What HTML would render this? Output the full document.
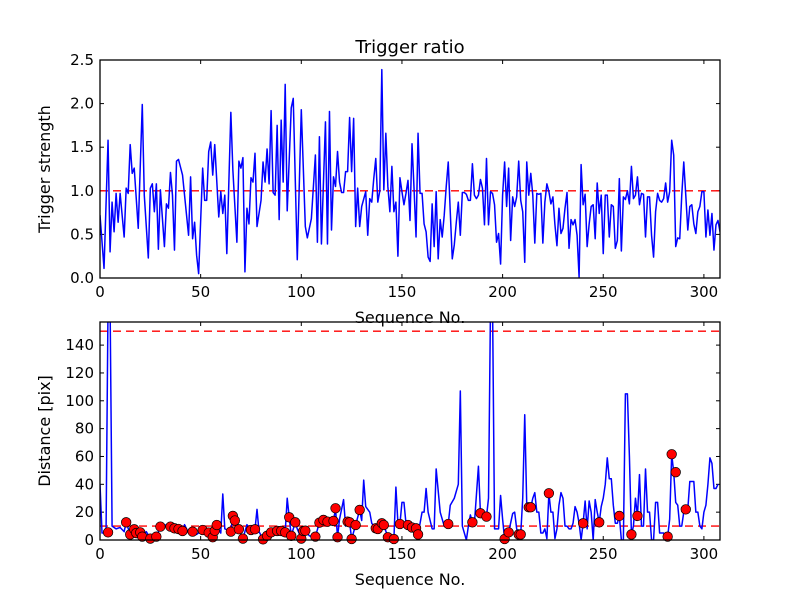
<!DOCTYPE html>
<html><head><meta charset="utf-8"><style>
html,body{margin:0;padding:0;background:#fff;}
svg{display:block;font-family:"DejaVu Sans","Liberation Sans",sans-serif;}
</style></head><body>
<svg id="fig" width="800" height="600" viewBox="0 0 800 600">
<rect width="800" height="600" fill="#fff"/>
<defs>
<clipPath id="c1"><rect x="100" y="60" width="620" height="218"/></clipPath>
<clipPath id="c2"><rect x="100" y="322" width="620" height="218"/></clipPath>
</defs>
<text x="410" y="53" font-size="18" text-anchor="middle">Trigger ratio</text>
<g id="top"></g>
<g id="bot"></g>
</svg>
<script>
const topPoints=[[0,0.72],[2,0.11],[4,1.58],[5,0.3],[6,0.87],[7,0.53],[8,0.97],[9,0.64],[10,0.97],[12,0.47],[13,1.03],[14,0.97],[15,1.53],[16,1.2],[17,1.26],[19,0.57],[21,1.99],[22,0.95],[24,0.23],[25,1.03],[26,1.08],[27,0.76],[28,1.08],[29,0.33],[30,1.01],[32,0.36],[33,0.85],[34,0.8],[35,1.21],[36,0.95],[37,0.32],[38,1.34],[39,1.36],[41,1.18],[44,0.49],[45,1.16],[46,0.45],[47,0.64],[48,0.26],[49,0.05],[51,1.26],[52,0.89],[53,0.89],[54,1.45],[55,1.56],[56,1.18],[57,1.53],[59,0.7],[60,0.99],[61,0.74],[62,0.95],[63,0.28],[65,1.9],[66,1.24],[68,0.41],[69,1.34],[70,1.26],[71,1.38],[72,0.07],[73,0.8],[74,0.62],[75,1.15],[76,1.1],[77,1.43],[78,0.59],[80,0.89],[81,1.33],[82,1.1],[83,1.48],[84,1.08],[85,1.92],[86,0.98],[87,0.95],[88,1.75],[89,0.67],[90,1.81],[91,1.1],[92,2.22],[93,0.77],[95,1.95],[96,2.06],[98,0.21],[100,1.93],[102,0.59],[103,0.46],[105,0.68],[107,1.41],[108,0.41],[109,1.62],[110,0.39],[112,1.79],[113,0.39],[114,1.91],[115,0.55],[116,1.16],[117,1.05],[118,1.45],[119,1.1],[120,0.98],[121,0.98],[122,1.22],[123,1.22],[124,1.84],[125,1.22],[126,1.83],[127,0.59],[128,1.03],[129,0.59],[130,0.82],[132,0.99],[133,0.49],[134,0.91],[135,0.87],[136,1.14],[137,1.37],[138,0.87],[139,1.0],[140,2.39],[141,1.01],[142,1.66],[143,1.05],[144,0.76],[145,1.28],[146,0.76],[147,0.87],[148,0.25],[149,1.15],[150,0.99],[151,0.84],[152,0.97],[153,1.12],[154,0.66],[155,1.54],[156,1.03],[157,0.47],[158,1.66],[159,0.97],[160,0.97],[161,0.62],[162,0.53],[163,0.24],[164,0.19],[165,0.85],[166,0.36],[167,0.99],[168,0.22],[169,0.67],[170,0.47],[171,0.72],[172,1.05],[173,1.33],[174,0.76],[175,0.22],[176,0.38],[177,0.64],[178,0.87],[179,0.49],[180,0.98],[181,0.98],[182,0.96],[183,0.89],[184,0.89],[185,1.31],[186,0.95],[187,0.91],[188,0.95],[189,1.13],[190,1.03],[191,0.61],[192,1.37],[193,0.61],[194,0.99],[195,0.97],[196,0.84],[197,0.41],[198,0.51],[199,0.16],[200,0.95],[201,1.33],[202,0.82],[203,1.26],[204,0.43],[205,0.93],[206,0.82],[207,0.93],[208,1.34],[209,0.89],[210,0.76],[211,0.18],[212,1.33],[213,0.95],[214,1.2],[215,0.95],[216,0.4],[217,0.97],[218,0.96],[219,0.97],[220,0.4],[221,0.87],[222,1.08],[223,0.99],[224,0.85],[225,0.93],[226,0.61],[227,0.37],[228,0.8],[229,0.51],[230,0.57],[231,0.8],[232,0.98],[233,0.34],[234,0.67],[235,0.61],[236,0.67],[237,0.49],[238,0.01],[239,1.3],[240,0.84],[241,0.96],[242,0.36],[243,0.62],[244,0.82],[245,0.84],[246,0.45],[247,1.09],[248,0.74],[249,0.95],[250,0.28],[251,0.95],[252,0.95],[253,0.47],[254,0.84],[255,0.82],[256,0.34],[257,0.43],[258,1.14],[259,0.31],[260,0.93],[261,0.9],[262,1.0],[263,0.85],[264,1.28],[265,0.91],[266,0.95],[267,1.16],[268,0.84],[269,0.97],[270,0.96],[271,0.47],[272,0.93],[273,0.93],[274,0.49],[275,0.24],[276,0.76],[277,0.97],[278,0.89],[279,0.87],[280,0.91],[281,1.09],[282,0.87],[283,0.99],[284,1.58],[285,1.41],[286,0.36],[287,0.46],[288,0.45],[289,0.95],[290,1.33],[291,0.95],[292,0.55],[293,0.82],[294,0.84],[295,0.62],[296,0.51],[297,0.76],[298,0.82],[299,0.99],[300,0.99],[301,0.47],[302,0.78],[303,0.49],[304,0.74],[305,0.32],[306,0.61],[307,0.66],[308,0.53]];
const distPoints=[[0,40],[1,5],[3,5],[4,170],[5,170],[6,10],[8,8],[10,9],[12,6],[13,12.7],[15,4],[17,7.7],[18,5],[20,5.5],[21,2.4],[23,6],[25,1],[28,2.4],[30,9.6],[33,11],[35,9.6],[37,8.4],[39,7.9],[41,6.5],[42,11],[44,5],[46,6],[48,4],[51,7.2],[54,5.3],[56,2],[57,6.7],[58,10.8],[60,5],[61,33],[62,8],[65,6],[66,17.3],[67,14],[69,7.7],[71,1],[73,11],[75,7.2],[77,7.7],[78,22],[79,6],[81,0.5],[83,3],[85,5.5],[88,6.5],[90,6.5],[92,5.5],[93,30],[94,16.3],[95,3],[97,12.7],[98,8],[100,1],[101,6.5],[102,6.7],[104,3],[107,2.4],[109,12.5],[111,14.4],[113,13.2],[116,13.7],[117,22.8],[118,2],[119,15],[121,29],[122,10],[123,13.2],[124,12.7],[125,0.7],[127,10.8],[129,21.6],[130,14],[131,43],[132,24],[134,20],[135,12],[137,8.4],[138,7.9],[140,12],[141,10.8],[143,2],[146,0.7],[147,38],[148,12],[149,11.5],[150,27],[151,27],[152,12],[153,10.8],[155,9],[157,8.4],[158,4],[160,20],[161,20],[162,37],[163,20],[165,8],[166,8],[167,51],[169,20],[171,10],[172,10],[173,11.5],[174,25],[176,30],[178,40],[179,107],[180,10],[182,0],[183,10],[184,18],[185,12.7],[186,12],[188,53],[189,19.2],[192,16.8],[193,30],[194,170],[195,170],[196,8],[198,8],[199,32],[200,15],[201,0.7],[203,5.5],[205,19],[206,20],[207,8],[208,4],[209,4],[210,30],[211,90],[212,25],[213,23.5],[214,23.5],[215,30],[216,34],[217,20],[218,20],[219,5],[220,5],[221,8],[222,1],[223,33.6],[224,20],[225,20],[226,1],[227,8],[228,25],[229,34],[230,30],[231,10],[232,10],[233,8],[234,8],[235,12],[236,24],[237,20],[238,12],[239,0],[240,12],[241,28],[242,8],[243,28],[244,20],[245,0],[246,29],[247,20],[248,12.7],[249,24],[250,30],[251,40],[252,59],[253,44],[254,44],[255,25],[256,12],[257,12],[258,17.3],[259,0],[260,0],[261,105],[262,105],[263,60],[264,4],[265,10],[266,30],[267,17.3],[268,47],[269,10],[270,10],[271,51],[272,20],[273,20],[274,0],[275,0],[276,27],[277,27],[278,5],[279,5],[280,5],[281,2],[282,2.4],[283,15],[284,61.6],[285,48.7],[286,27],[287,25],[288,10],[289,10],[290,20],[291,22],[292,22],[293,42],[294,42],[295,42],[296,20],[297,20],[298,10],[299,8],[300,20],[301,25],[302,40],[303,59],[304,55],[305,37],[306,37],[307,40]];
const dotSeq=[4,13,15,17,18,20,21,25,28,30,35,37,39,41,46,51,54,56,57,58,65,66,67,69,71,75,77,81,83,85,88,90,92,94,95,97,100,101,102,107,109,111,113,116,117,118,123,124,125,127,129,137,138,140,141,143,146,149,153,155,157,158,173,185,189,192,201,203,208,209,213,214,223,240,248,258,264,267,282,284,286,291];
const dotVal=[5.5,12.7,4,7.7,5,5.5,2.4,1,2.4,9.6,9.6,8.4,7.9,6.5,6,7.2,5.3,2,6.7,10.8,6,17.3,14,7.7,1,7.2,7.7,0.5,3,5.5,6.5,6.5,5.5,16.3,3,12.7,1,6.5,6.7,2.4,12.5,14.4,13.2,13.7,22.8,2,13.2,12.7,0.7,10.8,21.6,8.4,7.9,12,10.8,2,0.7,11.5,10.8,9,8.4,4,11.5,12.7,19.2,16.8,0.7,5.5,4,4,23.5,23.5,33.6,12,12.7,17.3,4,17.3,2.4,61.6,48.7,22];
const xTicks=[0,50,100,150,200,250,300];
const topYTicks=["0.0","0.5","1.0","1.5","2.0","2.5"];
const botYTicks=[0,20,40,60,80,100,120,140];
const X0=100,X1=720,XMAX=308;
const NS="http://www.w3.org/2000/svg";
function sx(v){return X0+(X1-X0)*v/XMAX;}
function mk(tag,at,parent){const e=document.createElementNS(NS,tag);for(const k in at)e.setAttribute(k,at[k]);parent.appendChild(e);return e;}
function axes(g,top,bot,ymax,yTicks,ylabel){
  const sy=v=>bot-(bot-top)*v/ymax;
  xTicks.forEach(t=>{
    const x=sx(t);
    const a=mk('line',{x1:x,x2:x,y1:bot,y2:bot-4,stroke:'#000','stroke-width':1},g);
    
    
    mk('line',{x1:x,x2:x,y1:top,y2:top+4,stroke:'#000','stroke-width':1},g);
    const tx=mk('text',{x:x,y:bot+19,'font-size':15,'text-anchor':'middle'},g);
    tx.textContent=t;
    
    
  });
  yTicks.forEach(t=>{
    const y=sy(parseFloat(t));
    mk('line',{x1:X0,x2:X0+4,y1:y,y2:y,stroke:'#000','stroke-width':1},g);
    mk('line',{x1:X1,x2:X1-4,y1:y,y2:y,stroke:'#000','stroke-width':1},g);
    const tx=mk('text',{x:X0-6,y:y+5,'font-size':15,'text-anchor':'end'},g);
    tx.textContent=t;
    
    
  });
  const xl=mk('text',{x:410,y:bot+45,'font-size':16,'text-anchor':'middle'},g);
  xl.textContent='Sequence No.';
  
  
  const cy=(top+bot)/2;
  const yl=mk('text',{x:0,y:0,'font-size':16,'text-anchor':'middle',transform:`translate(${X0-50},${cy}) rotate(-90)`},g);
  yl.textContent=ylabel;
  
  
  return sy;
}
const gT=document.getElementById('top');
const syT=axes(gT,60,278,2.5,topYTicks,'Trigger strength');
const cT=mk('g',{'clip-path':'url(#c1)'},gT);
const thr1=mk('line',{x1:X0,x2:X1,y1:syT(1),y2:syT(1),stroke:'#f00','stroke-width':1.3,'stroke-dasharray':'8,5'},cT);


const pT=mk('polyline',{points:topPoints.map(p=>sx(p[0])+','+syT(p[1])).join(' '),fill:'none',stroke:'#00f','stroke-width':1.5,'stroke-linejoin':'round'},cT);


mk('rect',{x:X0,y:60,width:X1-X0,height:218,fill:'none',stroke:'#000','stroke-width':1.3},gT);
const gB=document.getElementById('bot');
const syB=axes(gB,322,540,156.6,botYTicks.map(String),'Distance [pix]');
const cB=mk('g',{'clip-path':'url(#c2)'},gB);
[10,150].forEach(v=>{
  const l=mk('line',{x1:X0,x2:X1,y1:syB(v),y2:syB(v),stroke:'#f00','stroke-width':1.3,'stroke-dasharray':'8,5'},cB);
  
  
});
const pB=mk('polyline',{points:distPoints.map(p=>sx(p[0])+','+syB(p[1])).join(' '),fill:'none',stroke:'#00f','stroke-width':1.5,'stroke-linejoin':'round'},cB);


dotSeq.forEach((s,i)=>{
  const c=mk('circle',{cx:sx(s),cy:syB(dotVal[i]),r:4.8,fill:'#f00',stroke:'#000','stroke-width':0.7},gB);
  
  
});
mk('rect',{x:X0,y:322,width:X1-X0,height:218,fill:'none',stroke:'#000','stroke-width':1.3},gB);
</script>
</body></html>
